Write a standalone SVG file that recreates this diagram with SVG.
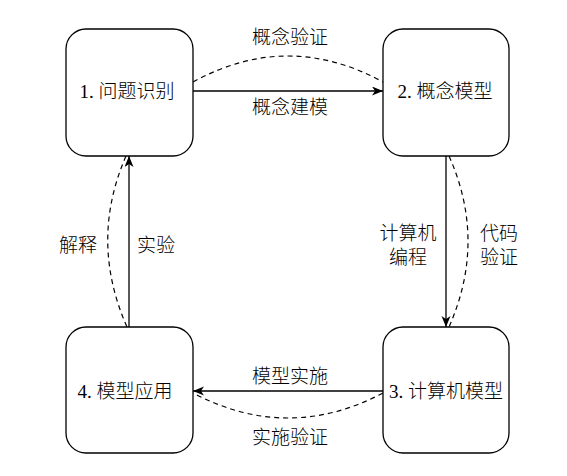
<svg xmlns="http://www.w3.org/2000/svg" width="567" height="476" viewBox="0 0 567 476">
<style>
.box{fill:#fff;stroke:#000;stroke-width:1.3}
.t{font-family:"Liberation Serif","Noto Sans CJK SC",serif;font-size:19px;font-weight:300;fill:#000;text-anchor:middle}
.s{fill:none;stroke:#000;stroke-width:1.3}
.d{fill:none;stroke:#000;stroke-width:1.2;stroke-dasharray:5 4}
</style>
<defs>
<marker id="ah" markerUnits="userSpaceOnUse" markerWidth="12" markerHeight="10" refX="11" refY="4.5" orient="auto">
<path d="M0,0 L11,4.5 L0,9 L3,4.5 Z" fill="#000"/>
</marker>
</defs>
<rect width="567" height="476" fill="#fff"/>
<g id="connectors">
<path class="s" d="M193,91 L383,91" marker-end="url(#ah)"/>
<path class="d" d="M193,82 Q288,30 383,82"/>
<path class="s" d="M446,156 L446,327" marker-end="url(#ah)"/>
<path class="d" d="M449,156 Q487,241 449,327"/>
<path class="s" d="M383,391 L193,391" marker-end="url(#ah)"/>
<path class="d" d="M383,393 Q288,443 193,393"/>
<path class="s" d="M129,327 L129,156" marker-end="url(#ah)"/>
<path class="d" d="M126,156 Q89,241 127,327"/>
<text class="t" x="290" y="44">概念验证</text>
<text class="t" x="290" y="114">概念建模</text>
<text class="t" x="408" y="240">计算机</text>
<text class="t" x="408" y="264">编程</text>
<text class="t" x="499" y="240">代码</text>
<text class="t" x="499" y="264">验证</text>
<text class="t" x="290" y="383">模型实施</text>
<text class="t" x="290" y="444">实施验证</text>
<text class="t" x="78" y="252">解释</text>
<text class="t" x="156" y="252">实验</text>
</g>
<g id="n1">
<rect class="box" x="66" y="29" width="127" height="127" rx="20"/>
<text class="t" x="127" y="98">1. 问题识别</text>
</g>
<g id="n2">
<rect class="box" x="383" y="29" width="126" height="127" rx="20"/>
<text class="t" x="445" y="98">2. 概念模型</text>
</g>
<g id="n3">
<rect class="box" x="383" y="327" width="126" height="126" rx="20"/>
<text class="t" x="446" y="398">3. 计算机模型</text>
</g>
<g id="n4">
<rect class="box" x="66" y="327" width="127" height="126" rx="20"/>
<text class="t" x="125" y="398">4. 模型应用</text>
</g>
</svg>
